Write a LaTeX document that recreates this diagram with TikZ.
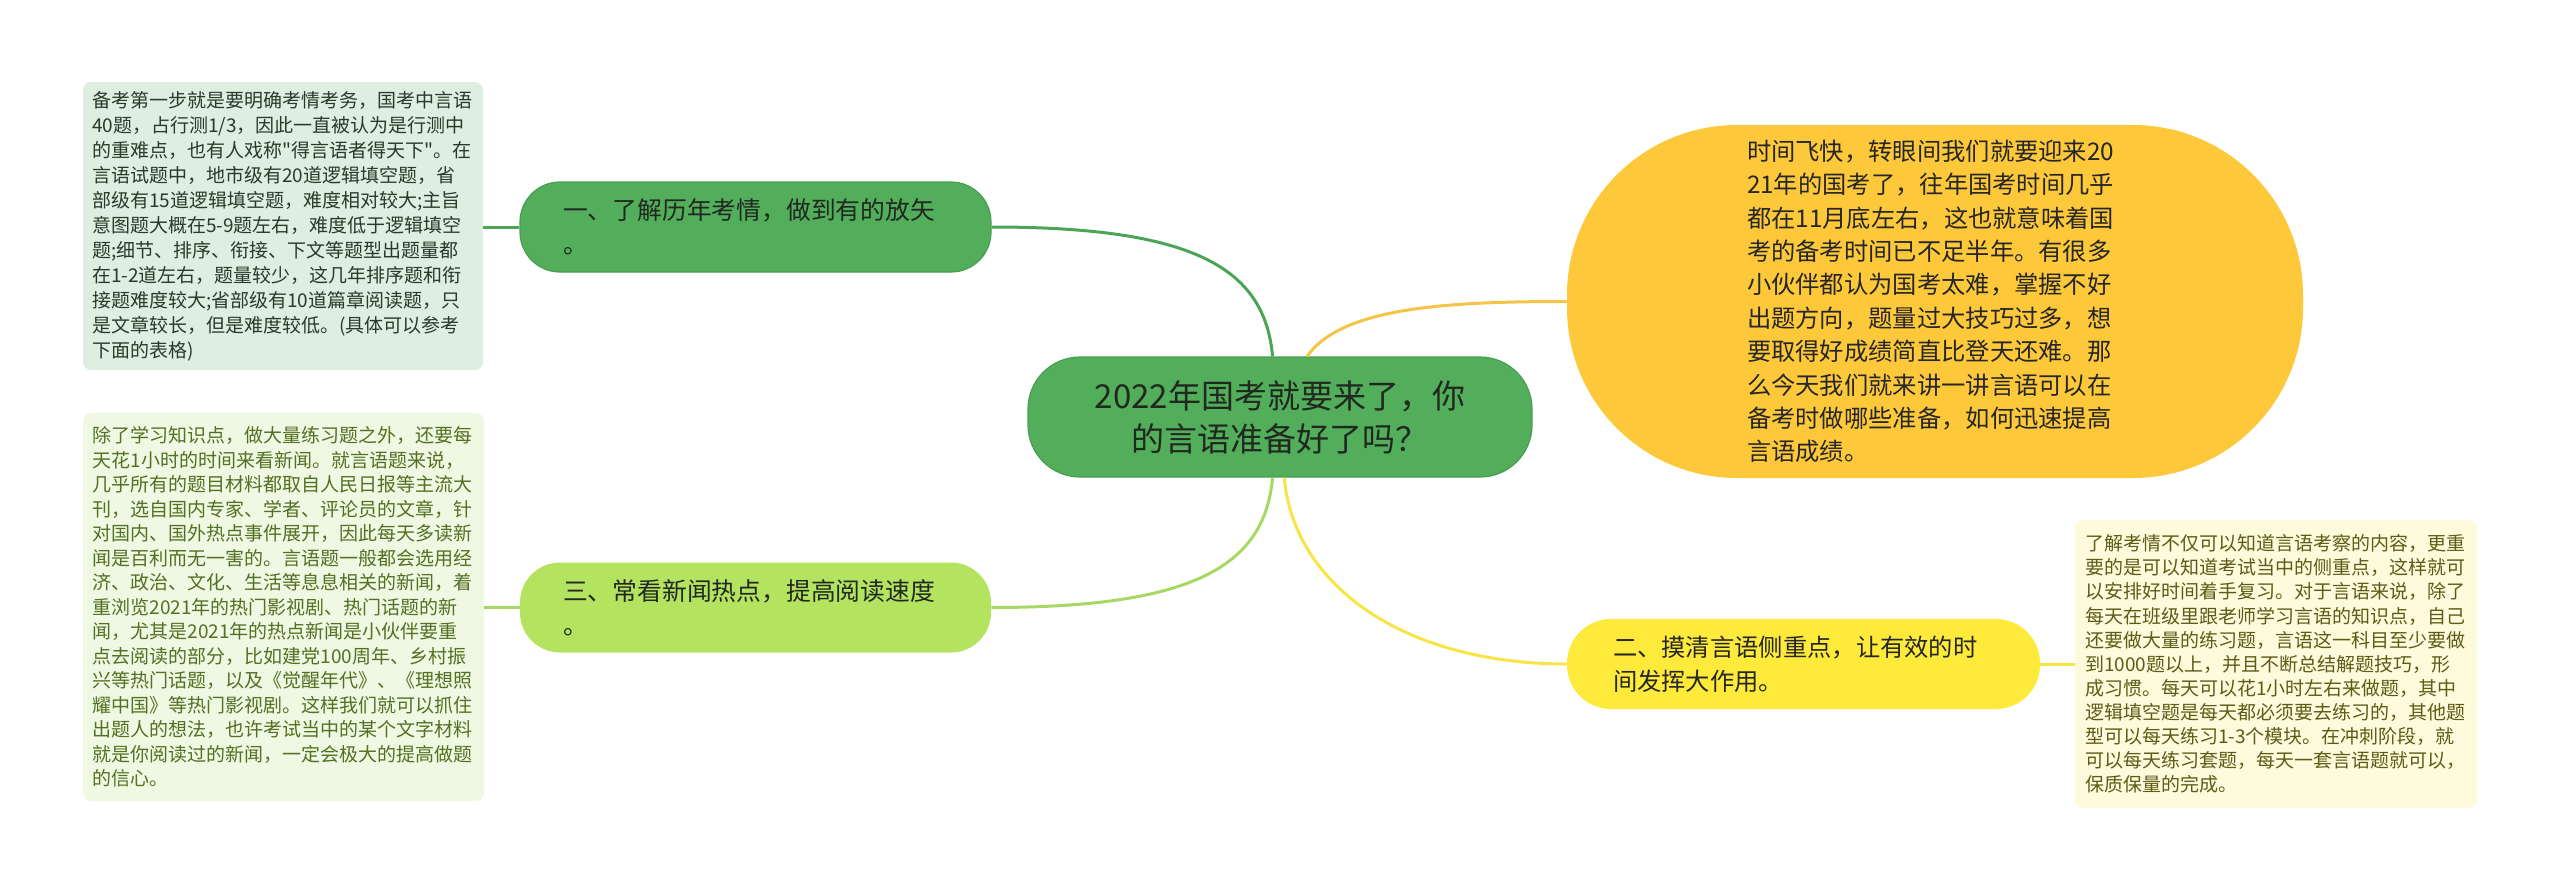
\documentclass[tikz,border=0pt]{standalone}
\usepackage{fontspec}
\setmainfont{Noto Sans CJK SC}[Ligatures=TeXOff]
\usetikzlibrary{calc}
\definecolor{rootfill}{RGB}{83,174,91}
\definecolor{rootedge}{RGB}{72,158,80}
\definecolor{inktext}{RGB}{32,40,32}
\definecolor{limefill}{RGB}{180,227,96}
\definecolor{introfill}{RGB}{253,201,59}
\definecolor{sunfill}{RGB}{253,234,58}
\definecolor{linkgreen}{RGB}{76,164,86}
\definecolor{linklime}{RGB}{168,216,100}
\definecolor{linkorange}{RGB}{244,196,72}
\definecolor{linkyellow}{RGB}{247,229,70}
\definecolor{noteafill}{RGB}{222,239,225}
\definecolor{noteatext}{RGB}{40,58,42}
\definecolor{notebfill}{RGB}{238,248,226}
\definecolor{notebtext}{RGB}{84,112,34}
\definecolor{notecfill}{RGB}{254,251,221}
\definecolor{notectext}{RGB}{96,90,22}

\begin{document}
\begin{tikzpicture}[x=0.5pt,y=0.5pt,
    root/.style={fill=rootfill, draw=rootedge, line width=0.6pt, rounded corners=26pt,
      inner sep=0pt, minimum width=252pt, minimum height=60pt, align=center,
      text=inktext, font=\fontsize{16.5pt}{21.5pt}\selectfont},
    topic/.style={rounded corners=20pt, inner sep=0pt, minimum width=235.5pt,
      minimum height=45pt, text width=192.5pt, align=left, text=inktext,
      font=\fontsize{12.4pt}{17pt}\selectfont},
    intro/.style={fill=introfill, rounded corners=85pt, inner sep=0pt,
      minimum width=368pt, minimum height=176.5pt, text width=188pt, align=left,
      text=black!85, font=\fontsize{12.15pt}{16.7pt}\selectfont},
    note/.style={rounded corners=4pt, inner sep=0pt, minimum width=200pt,
      text width=191pt, align=left, font=\fontsize{9.5pt}{12.3pt}\selectfont},
    link/.style={line width=1.5pt}]
  \useasboundingbox (0,0) rectangle (2560,-891);

  % centre and main branches
  \node[root] (ctr) at (1280,-417) {2022年国考就要来了，你\\的言语准备好了吗？};
  \node[topic, fill=rootfill, draw=rootedge, line width=0.6pt] (t1) at (755.5,-227)
    {一、了解历年考情，做到有的放矢\\。};
  \node[topic, fill=limefill] (t3) at (755.5,-607.5)
    {三、常看新闻热点，提高阅读速度\\。};
  \node[topic, fill=sunfill, text=black!85, rounded corners=22pt, minimum width=236.5pt,
    text width=190.5pt, font=\fontsize{12.15pt}{17pt}\selectfont] (t2) at (1803.5,-664)
    {二、摸清言语侧重点，让有效的时\\间发挥大作用。};
  \node[intro] (intro) at (1935,-301.5)
    {时间飞快，转眼间我们就要迎来20\\21年的国考了，往年国考时间几乎\\都在11月底左右，这也就意味着国\\考的备考时间已不足半年。有很多\\小伙伴都认为国考太难，掌握不好\\出题方向，题量过大技巧过多，想\\要取得好成绩简直比登天还难。那\\么今天我们就来讲一讲言语可以在\\备考时做哪些准备，如何迅速提高\\言语成绩。};

  % detail notes
  \node[note, fill=noteafill, text=noteatext, minimum height=144pt,
    font=\fontsize{9.5pt}{12.5pt}\selectfont] (notea) at (283,-226)
    {备考第一步就是要明确考情考务，国考中言语\\40题，占行测1/3，因此一直被认为是行测中\\的重难点，也有人戏称"得言语者得天下"。在\\言语试题中，地市级有20道逻辑填空题，省\\部级有15道逻辑填空题，难度相对较大;主旨\\意图题大概在5-9题左右，难度低于逻辑填空\\题;细节、排序、衔接、下文等题型出题量都\\在1-2道左右，题量较少，这几年排序题和衔\\接题难度较大;省部级有10道篇章阅读题，只\\是文章较长，但是难度较低。(具体可以参考\\下面的表格)};
  \node[note, fill=notebfill, text=notebtext, minimum width=200.5pt, minimum height=194pt,
    font=\fontsize{9.5pt}{12.25pt}\selectfont] (noteb) at (283.5,-607)
    {除了学习知识点，做大量练习题之外，还要每\\天花1小时的时间来看新闻。就言语题来说，\\几乎所有的题目材料都取自人民日报等主流大\\刊，选自国内专家、学者、评论员的文章，针\\对国内、国外热点事件展开，因此每天多读新\\闻是百利而无一害的。言语题一般都会选用经\\济、政治、文化、生活等息息相关的新闻，着\\重浏览2021年的热门影视剧、热门话题的新\\闻，尤其是2021年的热点新闻是小伙伴要重\\点去阅读的部分，比如建党100周年、乡村振\\兴等热门话题，以及《觉醒年代》、《理想照\\耀中国》等热门影视剧。这样我们就可以抓住\\出题人的想法，也许考试当中的某个文字材料\\就是你阅读过的新闻，一定会极大的提高做题\\的信心。};
  \node[note, fill=notecfill, text=notectext, minimum width=201pt, minimum height=144pt,
    font=\fontsize{9.5pt}{12.05pt}\selectfont] (notec) at (2276,-664)
    {了解考情不仅可以知道言语考察的内容，更重\\要的是可以知道考试当中的侧重点，这样就可\\以安排好时间着手复习。对于言语来说，除了\\每天在班级里跟老师学习言语的知识点，自己\\还要做大量的练习题，言语这一科目至少要做\\到1000题以上，并且不断总结解题技巧，形\\成习惯。每天可以花1小时左右来做题，其中\\逻辑填空题是每天都必须要去练习的，其他题\\型可以每天练习1-3个模块。在冲刺阶段，就\\可以每天练习套题，每天一套言语题就可以，\\保质保量的完成。};

  % connectors
  \draw[link, linkgreen] (ctr.97) .. controls +(95:90) and +(0:200) .. (t1.east);
  \draw[link, linkorange] (ctr.66) .. controls +(55:60) and +(180:120) .. (intro.west);
  \draw[link, linklime] (ctr.-97) .. controls +(-95:90) and +(0:200) .. (t3.east);
  \draw[link, linkyellow] (ctr.-86) .. controls +(-85:110) and +(180:160) .. (t2.west);
  \draw[link, linkgreen] (t1.west) -- (t1.west -| notea.east);
  \draw[link, linklime] (t3.west) -- (t3.west -| noteb.east);
  \draw[link, linkyellow] (t2.east) -- (t2.east -| notec.west);
\end{tikzpicture}
\end{document}
